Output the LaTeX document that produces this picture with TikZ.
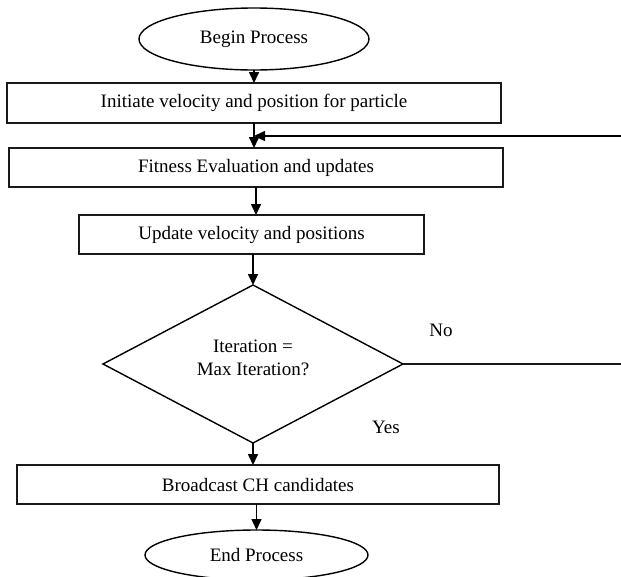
\documentclass[tikz,border=0pt]{standalone}
\usepackage{fontspec}
\setmainfont{Liberation Serif}
\usetikzlibrary{shapes.geometric,arrows.meta}
\begin{document}
\begin{tikzpicture}[x=1pt,y=-1pt,
  font=\fontsize{19}{23}\selectfont,
  every node/.style={inner sep=0pt, outer sep=0pt},
  procbox/.style={draw=black!90, line width=1.6pt, rectangle, anchor=center},
  termin/.style={draw=black, line width=1.4pt, ellipse, anchor=center},
  decide/.style={draw=black, line width=1.4pt, diamond, anchor=center},
  flow/.style={draw=black, line width=1.6pt, -{Triangle[length=11pt,width=10pt]}},
  plain/.style={draw=black!90, line width=1.6pt}]
\useasboundingbox (0,0) rectangle (621,576);
\clip (0,0) rectangle (621,576);
\node[termin, minimum width=230pt, minimum height=62pt] (begin) at (254,39) {Begin Process};
\node[procbox, minimum width=494pt, minimum height=40pt] (init) at (254,103) {Initiate velocity and position for particle};
\node[procbox, minimum width=494pt, minimum height=39pt] (fit) at (256,167.5) {Fitness Evaluation and updates};
\node[procbox, minimum width=345pt, minimum height=39pt] (upd) at (251.5,234.5) {Update velocity and positions};
\node[decide, minimum width=300pt, minimum height=158pt] (dec) at (253,364) {};
\node[align=center] (dectext) at (253,358) {Iteration =\\Max Iteration?};
\node[procbox, minimum width=482pt, minimum height=39pt] (bc) at (258,484.5) {Broadcast CH candidates};
\node[termin, minimum width=223pt, minimum height=50pt] (end) at (256.5,555) {End Process};
\node (no) at (441,330) {No};
\node (yes) at (386,427) {Yes};
\coordinate (fbR) at (621,136);
\coordinate (noR) at (621,362);
\draw[flow] (begin.south) -- (begin.south |- init.north);
\draw[flow] (init.south) -- (init.south |- fit.north);
\draw[flow] (fbR) -- (fbR -| init.south);
\draw[flow] (fit.south) -- (fit.south |- upd.north);
\draw[flow] (dec.north |- upd.south) -- (dec.north);
\draw[plain] (dec.east) -- (dec.east -| noR);
\draw[flow] (dec.south) -- (dec.south |- bc.north);
\draw[flow] (end.north |- bc.south) -- (end.north);
\end{tikzpicture}
\end{document}
